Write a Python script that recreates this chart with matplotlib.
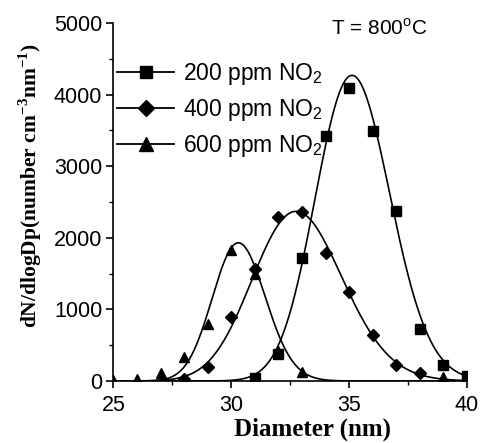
import numpy as np
import matplotlib.pyplot as plt
from matplotlib.ticker import MultipleLocator

plt.rcParams['mathtext.fontset'] = 'custom'
plt.rcParams['mathtext.rm'] = 'Liberation Sans'
plt.rcParams['mathtext.bf'] = 'Liberation Serif:bold'

# measured size distributions, T = 800 C
d_200 = [31, 32, 33, 34, 35, 36, 37, 38, 39, 40]
n_200 = [40, 370, 1720, 3426, 4088, 3492, 2374, 726, 220, 70]

d_400 = [28, 29, 30, 31, 32, 33, 34, 35, 36, 37, 38]
n_400 = [30, 200, 900, 1560, 2295, 2356, 1783, 1248, 642, 223, 110]

d_600 = [25, 26, 27, 28, 29, 30, 31, 32, 33, 39]
n_600 = [10, 30, 110, 330, 800, 1830, 1500, 420, 130, 60]

# lognormal fit parameters: peak height, peak diameter, log width
fit_200 = (4270, 35.12, 0.045)
fit_400 = (2370, 32.75, 0.058)
fit_600 = (1930, 30.3, 0.037)

labels = ['200 ppm NO$_2$', '400 ppm NO$_2$', '600 ppm NO$_2$']


def lognorm(x, a, xc, w):
    return a * np.exp(-np.log(x / xc) ** 2 / (2 * w ** 2))


fig = plt.figure(figsize=(4.86, 4.43), dpi=100)
ax = fig.add_axes([0.2335, 0.14, 0.7275, 0.808])

xx = np.linspace(25, 40, 600)
series = [(d_200, n_200, fit_200, 's', 6.5),
          (d_400, n_400, fit_400, 'D', 6),
          (d_600, n_600, fit_600, '^', 7)]
for (d, n, p, m, ms), lab in zip(series, labels):
    ax.plot(xx, lognorm(xx, *p), color='black', lw=1.2)
    ax.plot(d, n, m, color='black', ms=ms, ls='none')
    # legend handle: line with marker
    ax.plot([], [], color='black', lw=1.3, marker=m, ms=ms + 2.5, label=lab)

ax.set_xlim(25, 40)
ax.set_ylim(0, 5000)
ax.xaxis.set_major_locator(MultipleLocator(5))
ax.xaxis.set_minor_locator(MultipleLocator(2.5))
ax.yaxis.set_major_locator(MultipleLocator(1000))
ax.yaxis.set_minor_locator(MultipleLocator(500))

for s in ['top', 'right']:
    ax.spines[s].set_visible(False)
for s in ['left', 'bottom']:
    ax.spines[s].set_linewidth(1.2)

ax.tick_params(which='major', direction='out', length=5, width=1.2,
               labelsize=15.5, pad=3)
ax.tick_params(axis='x', which='major', pad=5)
ax.tick_params(which='minor', direction='out', length=3, width=1.0)
for t in ax.get_xticklabels() + ax.get_yticklabels():
    t.set_family('Liberation Sans')

ax.set_xlabel('Diameter (nm)', family='Liberation Serif', weight='bold',
              fontsize=18, va='center')
ax.xaxis.set_label_coords(0.5615, -0.135)
ax.set_ylabel(r'dN/dlogDp(number cm$^{\mathbf{-3}}$nm$^{\mathbf{-1}}$)',
              family='Liberation Serif', weight='bold', fontsize=15.5)
ax.yaxis.set_label_coords(-0.197, 0.545)

ax.text(0.615, 0.985, 'T = 800$^{\\mathrm{o}}$C', transform=ax.transAxes,
        fontsize=15, family='Liberation Sans', va='center', ha='left')

leg = ax.legend(loc='upper left', bbox_to_anchor=(0.01, 0.893), frameon=False,
                handlelength=2.5, handletextpad=0.4,
                labelspacing=0.42, borderpad=0, borderaxespad=0,
                prop={'family': 'Liberation Sans', 'size': 16.5})

fig.savefig('out.png', dpi=100)
